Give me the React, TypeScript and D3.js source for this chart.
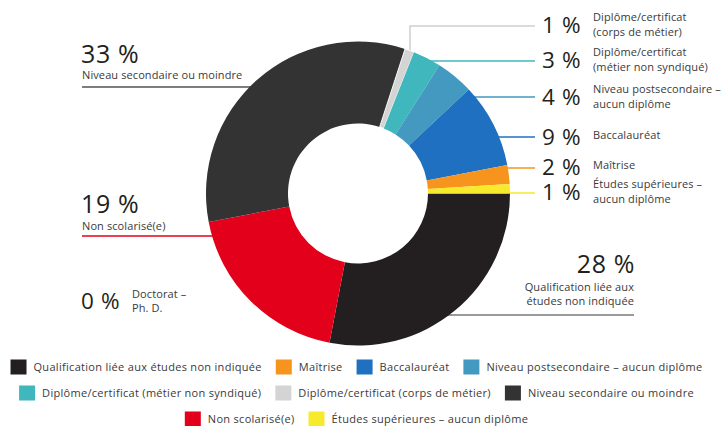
import React, { useEffect, useRef } from "react";
import * as d3 from "d3";

// ---- data ----
const categories = [
  "Qualification liée aux études non indiquée",
  "Non scolarisé(e)",
  "Niveau secondaire ou moindre",
  "Diplôme/certificat (corps de métier)",
  "Diplôme/certificat (métier non syndiqué)",
  "Niveau postsecondaire – aucun diplôme",
  "Baccalauréat",
  "Maîtrise",
  "Études supérieures – aucun diplôme",
  "Doctorat – Ph. D.",
];
const values = [28, 19, 33, 1, 3, 4, 9, 2, 1, 0];
const colors = [
  "#231f20",
  "#e2001a",
  "#333333",
  "#d4d4d4",
  "#40b7bd",
  "#4399bf",
  "#1f70c0",
  "#f7941d",
  "#f7e92c",
  "#ffffff",
];
// label text lines for each category
const labelLines = [
  ["Qualification liée aux", "études non indiquée"],
  ["Non scolarisé(e)"],
  ["Niveau secondaire ou moindre"],
  ["Diplôme/certificat", "(corps de métier)"],
  ["Diplôme/certificat", "(métier non syndiqué)"],
  ["Niveau postsecondaire –", "aucun diplôme"],
  ["Baccalauréat"],
  ["Maîtrise"],
  ["Études supérieures –", "aucun diplôme"],
  ["Doctorat –", "Ph. D."],
];
const legendRows = [
  [0, 7, 6, 5],
  [4, 3, 2],
  [1, 8],
];

// ---- layout ----
const W = 726;
const H = 426;
const CX = 358;
const CY = 193.5;
const R_OUT = 152;
const R_IN = 70;
const FONT = "'Open Sans', 'DejaVu Sans', sans-serif";

// right-side labels: category index, baseline of the number, leader y
const rightLayout = [
  { i: 3, base: 33, ly: 26, elbowX: 410 },
  { i: 4, base: 68, ly: 61 },
  { i: 5, base: 105, ly: 97 },
  { i: 6, base: 145, ly: 137 },
  { i: 7, base: 175, ly: 168 },
  { i: 8, base: 200, ly: 193 },
];

export default function App() {
  const ref = useRef<SVGSVGElement>(null);

  useEffect(() => {
    const svg = d3.select(ref.current);
    svg.selectAll("*").remove();

    const edgeX = (y: number, side: number) =>
      CX + side * Math.sqrt(Math.max(0, R_OUT * R_OUT - (y - CY) * (y - CY)));

    const lines = svg.append("g");

    // left leader lines
    lines
      .append("line")
      .attr("x1", 82)
      .attr("x2", edgeX(87, -1) + 4)
      .attr("y1", 87)
      .attr("y2", 87)
      .attr("stroke", "#7d7d7d")
      .attr("stroke-width", 2);
    lines
      .append("line")
      .attr("x1", 82)
      .attr("x2", edgeX(236, -1) + 4)
      .attr("y1", 236)
      .attr("y2", 236)
      .attr("stroke", colors[1])
      .attr("stroke-width", 1.6);
    lines
      .append("line")
      .attr("x1", edgeX(315, 1) - 4)
      .attr("x2", 634)
      .attr("y1", 315)
      .attr("y2", 315)
      .attr("stroke", "#9a9a9a")
      .attr("stroke-width", 2);

    // right leader lines
    rightLayout.forEach((d) => {
      const col = d.i === 3 ? "#cfcfcf" : colors[d.i];
      if (d.elbowX) {
        lines
          .append("polyline")
          .attr("points", `${d.elbowX},52 ${d.elbowX},${d.ly} 535,${d.ly}`)
          .attr("fill", "none")
          .attr("stroke", col)
          .attr("stroke-width", 1.5);
      } else {
        lines
          .append("line")
          .attr("x1", edgeX(d.ly, 1) - 4)
          .attr("x2", 535)
          .attr("y1", d.ly)
          .attr("y2", d.ly)
          .attr("stroke", col)
          .attr("stroke-width", 1.5);
      }
    });

    // donut
    const pie = d3
      .pie<number>()
      .sort(null)
      .startAngle(Math.PI / 2)
      .endAngle(Math.PI / 2 + 2 * Math.PI)
      .value((v) => v);
    const arc = d3.arc<d3.PieArcDatum<number>>().innerRadius(R_IN).outerRadius(R_OUT);
    const g = svg.append("g").attr("transform", `translate(${CX},${CY})`);
    g.selectAll("path")
      .data(pie(values))
      .join("path")
      .attr("d", arc)
      .attr("fill", (_, i) => colors[i])
      .attr("stroke", (_, i) => (i === 3 ? "#ffffff" : "none"))
      .attr("stroke-width", 0.8);

    const txt = svg.append("g").attr("font-family", FONT);

    const bigNum = (x: number, y: number, i: number, size: number, anchor = "start") =>
      txt
        .append("text")
        .attr("x", x)
        .attr("y", y)
        .attr("font-size", size)
        .attr("letter-spacing", 0.6)
        .attr("fill", "#231f20")
        .attr("text-anchor", anchor)
        .text(`${values[i]} %`);
    const small = (x: number, y: number, s: string, anchor = "start") =>
      txt
        .append("text")
        .attr("x", x)
        .attr("y", y)
        .attr("font-size", 11)
        .attr("letter-spacing", 0.1)
        .attr("fill", "#3a3a3a")
        .attr("text-anchor", anchor)
        .text(s);

    // left labels
    bigNum(81, 63, 2, 25);
    small(82, 79, labelLines[2][0]);
    bigNum(81, 213, 1, 25);
    small(82, 230, labelLines[1][0]);
    bigNum(81, 309, 9, 22.5);
    small(132, 298, labelLines[9][0]);
    small(132, 312, labelLines[9][1]);

    // bottom right label
    bigNum(635, 273, 0, 25, "end");
    small(634, 291, labelLines[0][0], "end");
    small(634, 305, labelLines[0][1], "end");

    // right labels
    rightLayout.forEach((d) => {
      bigNum(542, d.base, d.i, 22.5);
      const ls = labelLines[d.i];
      if (ls.length === 2) {
        small(593, d.base - 12, ls[0]);
        small(593, d.base + 3, ls[1]);
      } else {
        small(593, d.base - 6, ls[0]);
      }
    });

    // legend
    const rowY = [367, 393, 419];
    const SW = 16;
    const SH = 15;
    const GAP_T = 7;
    const GAP_I = 14;
    legendRows.forEach((row, ri) => {
      const rg = svg.append("g");
      let x = 0;
      row.forEach((ci) => {
        rg.append("rect")
          .attr("x", x)
          .attr("y", rowY[ri] - SH / 2)
          .attr("width", SW)
          .attr("height", SH)
          .attr("fill", colors[ci]);
        const t = rg
          .append("text")
          .attr("x", x + SW + GAP_T)
          .attr("y", rowY[ri] + 3.8)
          .attr("font-family", FONT)
          .attr("font-size", 11)
          .attr("letter-spacing", 0.3)
          .attr("fill", "#3a3a3a")
          .text(categories[ci]);
        const w = (t.node() as SVGTextElement).getComputedTextLength();
        x += SW + GAP_T + w + GAP_I;
      });
      const total = x - GAP_I;
      rg.attr("transform", `translate(${356.5 - total / 2},0)`);
    });
  }, []);

  return (
    <svg
      ref={ref}
      width={W}
      height={H}
      style={{ position: "absolute", left: 0, top: 0, background: "#fff" }}
    />
  );
}
